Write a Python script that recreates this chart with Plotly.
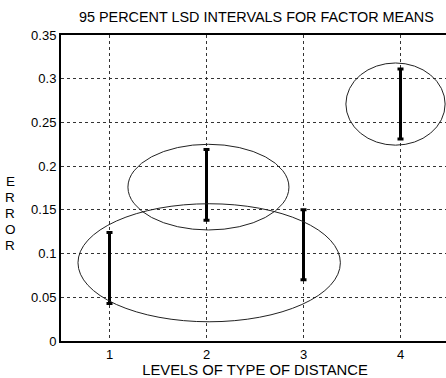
import plotly.graph_objects as go

levels = [1, 2, 3, 4]
lower = [0.043, 0.138, 0.070, 0.231]
upper = [0.124, 0.219, 0.150, 0.311]

# groupings drawn as ellipses (data-space bounds)
ell_x0 = [0.675, 1.19, 3.437]
ell_x1 = [3.38, 2.85, 4.46]
ell_y0 = [0.022, 0.127, 0.224]
ell_y1 = [0.157, 0.225, 0.318]

x_ticks = [1, 2, 3, 4]
y_ticks = [0, 0.05, 0.1, 0.15, 0.2, 0.25, 0.3, 0.35]
y_tick_text = ["0", "0.05", "0.1", "0.15", "0.2", "0.25", "0.3", "0.35"]

y_title_letters = ["E", "R", "R", "O", "R"]

mid = [(a + b) / 2 for a, b in zip(lower, upper)]
err_plus = [u - m for u, m in zip(upper, mid)]
err_minus = [m - l for l, m in zip(lower, mid)]

FONT = "Liberation Sans, Arial, Helvetica, sans-serif"

fig = go.Figure()
fig.add_trace(go.Scatter(
    x=levels, y=mid, mode="markers",
    marker=dict(size=1, color="rgba(0,0,0,0)"),
    error_y=dict(type="data", symmetric=False, array=err_plus, arrayminus=err_minus,
                 color="black", thickness=3, width=3),
    showlegend=False, hoverinfo="skip",
))

for x0, x1, y0, y1 in zip(ell_x0, ell_x1, ell_y0, ell_y1):
    fig.add_shape(type="circle", xref="x", yref="y", x0=x0, x1=x1, y0=y0, y1=y1,
                  line=dict(color="#222", width=1), layer="above")

annotations = [
    dict(text="95 PERCENT LSD INTERVALS FOR FACTOR MEANS", xref="paper", yref="paper",
         x=0.505, y=1.0, yshift=18, xanchor="center", yanchor="middle",
         showarrow=False, font=dict(size=14.4)),
]
n = len(y_title_letters)
for i, ch in enumerate(y_title_letters):
    annotations.append(dict(text=ch, xref="paper", yref="paper",
                            x=0, xshift=-51, y=0.418, yshift=(n // 2 - i) * 16,
                            xanchor="center", yanchor="middle",
                            showarrow=False, font=dict(size=13.5)))

fig.update_layout(
    width=451, height=378,
    margin=dict(l=61, r=0, t=35, b=37),
    paper_bgcolor="white", plot_bgcolor="white",
    font=dict(family=FONT, size=13, color="black"),
    showlegend=False,
    xaxis=dict(range=[0.5, 4.5], tickvals=x_ticks, ticktext=[str(v) for v in x_ticks],
               showgrid=True, gridcolor="#333", griddash="dot", gridwidth=1,
               showline=True, linecolor="black", linewidth=2, mirror=True,
               zeroline=False, ticks="", tickfont=dict(size=13),
               title=dict(text="LEVELS OF TYPE OF DISTANCE", font=dict(size=14.8), standoff=0)),
    yaxis=dict(range=[0, 0.35], tickvals=y_ticks, ticktext=y_tick_text,
               showgrid=True, gridcolor="#333", griddash="dot", gridwidth=1,
               showline=True, linecolor="black", linewidth=2, mirror=True,
               zeroline=False, ticks="", tickfont=dict(size=13)),
    annotations=annotations,
)

fig.write_html("out.html", config={"displayModeBar": False},
               post_script="document.body.style.margin='0';document.body.style.overflow='hidden';")
